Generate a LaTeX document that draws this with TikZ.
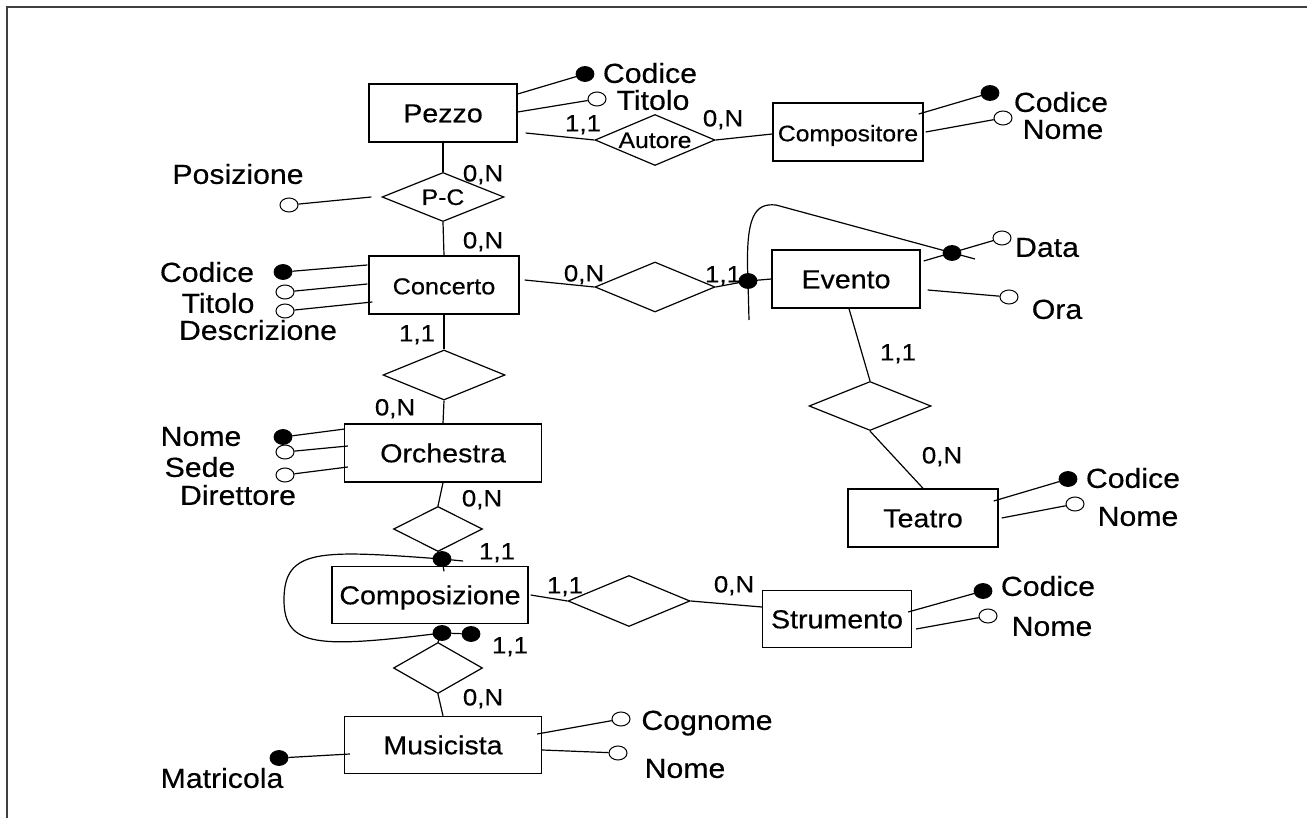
\documentclass[tikz,border=0pt]{standalone}
\usepackage{fontspec}
\setmainfont{Liberation Sans}[FakeStretch=1.1,FakeBold=0.4]
\usetikzlibrary{shapes.geometric}
\newcommand\fsz[1]{\fontsize{#1pt}{#1pt}\selectfont}
\begin{document}
\begin{tikzpicture}[x=1pt,y=-1pt,
 ent/.style={draw, line width=1.4pt, inner sep=0pt, font=\fsz{26}, text height=18.6pt, text depth=0pt},
 rel/.style={draw, diamond, line width=1.2pt, inner sep=0pt, aspect=2.5, font=\fsz{22.5}, text height=16pt, text depth=0pt},
 keyat/.style={ellipse, fill=black, draw=black, line width=0.8pt, minimum width=18pt, minimum height=15pt, inner sep=0pt},
 opat/.style={ellipse, fill=white, draw=black, line width=1pt, minimum width=18pt, minimum height=14pt, inner sep=0pt},
 lab/.style={inner sep=0pt, font=\fsz{27.5}, text height=19.7pt, text depth=0pt},
 card/.style={inner sep=0pt, font=\fsz{23.5}, text height=16.8pt, text depth=0pt},
 conn/.style={line width=1.2pt},
 frame/.style={draw=black!75, line width=2pt}]
\fill[white] (0,0) rectangle (1307,818);
\useasboundingbox (0,0) rectangle (1307,818);
\draw[frame] (6,7) -- (1307,7);
\draw[frame] (7,6) -- (7,818);

% entities
\node[ent, minimum width=148pt, minimum height=58pt] (pezzo) at (443,113) {Pezzo};
\node[ent, minimum width=150pt, minimum height=58pt, font=\fsz{22.5}] (compositore) at (848,132) {Compositore};
\node[ent, minimum width=150pt, minimum height=58pt, font=\fsz{23}] (concerto) at (444,285) {Concerto};
\node[ent, minimum width=148pt, minimum height=58pt] (evento) at (846,279) {Evento};
\node[ent, minimum width=197pt, minimum height=58pt] (orchestra) at (443,453) {Orchestra};
\node[ent, minimum width=196pt, minimum height=57pt] (composizione) at (430,595) {Composizione};
\node[ent, minimum width=197pt, minimum height=57pt] (musicista) at (443,745) {Musicista};
\node[ent, minimum width=150pt, minimum height=58pt] (teatro) at (923,518) {Teatro};
\node[ent, minimum width=149pt, minimum height=57pt] (strumento) at (837,619) {Strumento};

% relationships
\node[rel, minimum width=122pt, minimum height=49pt] (pc) at (443,197) {P-C};
\node[rel, minimum width=120pt, minimum height=51pt] (autore) at (655,140) {Autore};
\node[rel, minimum width=120pt, minimum height=50pt] (ce) at (655,287) {};
\node[rel, minimum width=122pt, minimum height=50pt] (co) at (444,375) {};
\node[rel, minimum width=122pt, minimum height=49pt] (et) at (870,406) {};
\node[rel, minimum width=89pt, minimum height=45pt] (oc) at (438,529) {};
\node[rel, minimum width=122pt, minimum height=51pt] (cs) at (629,601) {};
\node[rel, minimum width=89pt, minimum height=51pt] (cm) at (438,668) {};

% attribute markers
\node[keyat] (pz-cod) at (585,74) {};
\node[opat] (pz-tit) at (597,99) {};
\node[keyat] (cp-cod) at (990,93) {};
\node[opat] (cp-nom) at (1003,118) {};
\node[opat] (pos) at (289,205) {};
\node[keyat] (cc-cod) at (283,272) {};
\node[opat] (cc-tit) at (285,292) {};
\node[opat] (cc-des) at (285,311) {};
\node[keyat] (ev-id) at (748,281) {};
\node[keyat] (ev-dk) at (952,253) {};
\node[opat] (ev-dat) at (1002,238) {};
\node[opat] (ev-ora) at (1009,297) {};
\node[keyat] (te-cod) at (1068,479) {};
\node[opat] (te-nom) at (1075,504) {};
\node[keyat] (or-nom) at (283,437) {};
\node[opat] (or-sed) at (285,452) {};
\node[opat] (or-dir) at (285,475) {};
\node[keyat] (cz-top) at (442,559) {};
\node[keyat] (cz-bot) at (442,633) {};
\node[keyat] (cz-bot2) at (471,634) {};
\node[keyat] (st-cod) at (983,591) {};
\node[opat] (st-nom) at (988,616) {};
\node[keyat] (mu-mat) at (279,758) {};
\node[opat] (mu-cog) at (621,719) {};
\node[opat] (mu-nom) at (618,753) {};

% free ends
\coordinate (idA) at (749,320);
\coordinate (idB) at (975,259);
\coordinate (cA) at (463,561);

% connectors
\draw[conn] ([yshift=19pt]pezzo.east) -- (pz-cod);
\draw[conn] ([yshift=1pt]pezzo.east) -- (pz-tit);
\draw[conn] ([xshift=8pt,yshift=-20pt]pezzo.east) -- (autore.west);
\draw[conn] (autore.east) -- ([yshift=-2pt]compositore.west);
\draw[conn] ([xshift=-5pt,yshift=18pt]compositore.east) -- (cp-cod);
\draw[conn] ([xshift=2pt]compositore.east) -- (cp-nom);
\draw[conn] (pezzo.south) -- (pc.north);
\draw[conn] (pc.south) -- (concerto.north);
\draw[conn] (pos) -- ([xshift=-10pt]pc.west);
\draw[conn] ([xshift=-1pt,yshift=20pt]concerto.west) -- (cc-cod);
\draw[conn] ([xshift=-1pt,yshift=1pt]concerto.west) -- (cc-tit);
\draw[conn] ([xshift=4pt,yshift=-17pt]concerto.west) -- (cc-des);
\draw[conn] ([xshift=5pt,yshift=5pt]concerto.east) -- (ce.west);
\draw[conn] (ce.east) -- (ev-id.center) -- (evento.west);
\draw[conn] (idA) -- (ev-id.center) .. controls (745,215) and (755,203) .. (776,205) -- (idB);
\draw[conn] ([xshift=3pt,yshift=18pt]evento.east) -- (ev-dat);
\draw[conn] ([xshift=7pt,yshift=-11pt]evento.east) -- (ev-ora);
\draw[conn] ([xshift=3pt]evento.south) -- (et.north);
\draw[conn] (et.south) -- (teatro.north);
\draw[conn] ([xshift=-5pt,yshift=17pt]teatro.east) -- (te-cod);
\draw[conn] ([xshift=3pt]teatro.east) -- (te-nom);
\draw[conn] (concerto.south) -- (co.north);
\draw[conn] (co.south) -- (orchestra.north);
\draw[conn] ([xshift=1pt,yshift=24pt]orchestra.west) -- (or-nom);
\draw[conn] ([xshift=4pt,yshift=7pt]orchestra.west) -- (or-sed);
\draw[conn] ([xshift=4pt,yshift=-14pt]orchestra.west) -- (or-dir);
\draw[conn] (orchestra.south) -- (oc.north);
\draw[conn] (oc.south) -- (cz-top.center) -- ([xshift=14pt,yshift=-5.5pt]composizione.north);
\draw[conn] (cA) -- (cz-top.center) .. controls (320,550) and (284,548) .. (284,600) .. controls (284,648) and (320,648) .. (cz-bot.center);
\draw[conn] (cz-bot) -- (cz-bot2);
\draw[conn] (cz-bot.center) -- (cm.north);
\draw[conn] (cm.south) -- (musicista.north);
\draw[conn] (mu-mat) -- ([xshift=6pt,yshift=-9pt]musicista.west);
\draw[conn] ([xshift=-5pt,yshift=11pt]musicista.east) -- (mu-cog);
\draw[conn] ([yshift=-5pt]musicista.east) -- (mu-nom);
\draw[conn] ([xshift=2pt]composizione.east) -- (cs.west);
\draw[conn] (cs.east) -- ([yshift=12pt]strumento.west);
\draw[conn] ([xshift=-4pt,yshift=7pt]strumento.east) -- (st-cod);
\draw[conn] ([xshift=4pt,yshift=-10pt]strumento.east) -- (st-nom);

% attribute labels
\node[lab] (l-pzcod) at (650,73) {Codice};
\node[lab] (l-pztit) at (653,100) {Titolo};
\node[lab] (l-cpcod) at (1061,102) {Codice};
\node[lab] (l-cpnom) at (1063,129) {Nome};
\node[lab] (l-pos) at (238,174) {Posizione};
\node[lab] (l-cccod) at (207,272) {Codice};
\node[lab] (l-cctit) at (218,303) {Titolo};
\node[lab] (l-ccdes) at (258,330) {Descrizione};
\node[lab] (l-evdat) at (1047,247) {Data};
\node[lab] (l-evora) at (1057,309) {Ora};
\node[lab] (l-tecod) at (1133,478) {Codice};
\node[lab] (l-tenom) at (1138,516) {Nome};
\node[lab] (l-ornom) at (201,436) {Nome};
\node[lab] (l-orsed) at (200,467) {Sede};
\node[lab] (l-ordir) at (238,495) {Direttore};
\node[lab] (l-stcod) at (1048,586) {Codice};
\node[lab] (l-stnom) at (1052,626) {Nome};
\node[lab] (l-mumat) at (222,778) {Matricola};
\node[lab] (l-mucog) at (707,720) {Cognome};
\node[lab] (l-munom) at (685,768) {Nome};

% cardinalities
\node[card] (k1) at (483,173) {0,N};
\node[card] (k2) at (483,240) {0,N};
\node[card] (k3) at (583,123) {1,1};
\node[card] (k4) at (723,118) {0,N};
\node[card] (k5) at (584,273) {0,N};
\node[card] (k6) at (723,274) {1,1};
\node[card] (k7) at (417,333) {1,1};
\node[card] (k8) at (395,407) {0,N};
\node[card] (k9) at (898,352) {1,1};
\node[card] (k10) at (942,455) {0,N};
\node[card] (k11) at (482,498) {0,N};
\node[card] (k12) at (497,551) {1,1};
\node[card] (k13) at (510,645) {1,1};
\node[card] (k14) at (565,585) {1,1};
\node[card] (k15) at (734,584) {0,N};
\node[card] (k16) at (483,697) {0,N};
\end{tikzpicture}
\end{document}
